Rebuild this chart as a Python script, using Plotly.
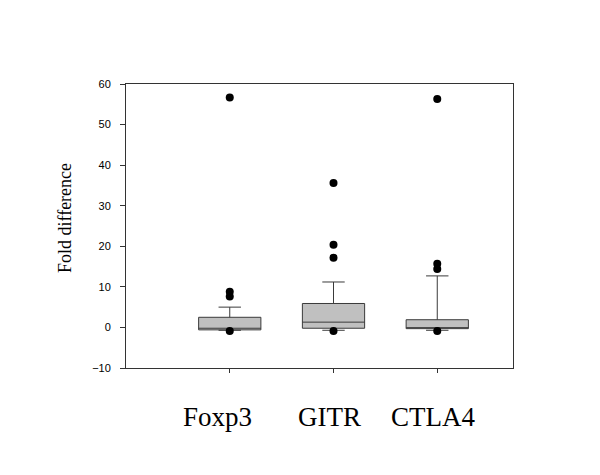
import plotly.graph_objects as go

categories = ["Foxp3", "GITR", "CTLA4"]
q1 = [-0.6, -0.2, -0.3]
median = [-0.2, 1.3, -0.2]
q3 = [2.5, 5.9, 1.9]
lower_whisker = [-0.7, -0.7, -0.7]
upper_whisker = [5.0, 11.2, 12.7]
outliers = [
    [56.7, 8.8, 7.6, -0.9],
    [35.6, 20.4, 17.2, -0.9],
    [56.3, 15.7, 14.4, -0.9],
]
y_ticks = [-10, 0, 10, 20, 30, 40, 50, 60]

fig = go.Figure()
for i, cat in enumerate(categories):
    fig.add_trace(go.Box(
        x=[cat], q1=[q1[i]], median=[median[i]], q3=[q3[i]],
        lowerfence=[lower_whisker[i]], upperfence=[upper_whisker[i]],
        fillcolor="#c0c0c0", line=dict(color="#3a3a3a", width=1),
        width=0.6, whiskerwidth=0.36, boxpoints=False, showlegend=False,
    ))
    fig.add_trace(go.Scatter(
        x=[cat] * len(outliers[i]), y=outliers[i], mode="markers",
        marker=dict(color="black", size=8), showlegend=False,
    ))

label_shift = [-12, -4, -4]
for i, cat in enumerate(categories):
    fig.add_annotation(
        x=cat, xref="x", y=0, yref="paper", yanchor="top", xanchor="center",
        yshift=-32, xshift=label_shift[i],
        text=cat, showarrow=False,
        font=dict(family="Liberation Serif, Times New Roman, serif", size=27, color="black"),
    )

fig.add_annotation(
    x=0, xref="paper", y=0.528, yref="paper", xanchor="center", yanchor="middle",
    xshift=-61, text="Fold difference", textangle=-90, showarrow=False,
    font=dict(family="Liberation Serif, Times New Roman, serif", size=18, color="black"),
)

fig.update_layout(
    width=600, height=475,
    margin=dict(l=118, r=95, t=76, b=115),
    plot_bgcolor="white", paper_bgcolor="white",
    xaxis=dict(
        type="category", categoryorder="array", categoryarray=categories,
        range=[-1.0, 2.73], showticklabels=False, ticks="outside", ticklen=4,
        tickcolor="#333", showline=True, linecolor="#333", linewidth=1,
        mirror=True, showgrid=False, zeroline=False,
    ),
    yaxis=dict(
        range=[-10, 60], tickvals=y_ticks, ticks="outside", ticklen=5,
        tickcolor="#333", showline=True, linecolor="#333", linewidth=1,
        mirror=True, showgrid=False, zeroline=False, ticklabelstandoff=7,
        tickfont=dict(family="Liberation Sans, Arial, sans-serif", size=11, color="black"),
    ),
)

fig.write_html("out.html")
